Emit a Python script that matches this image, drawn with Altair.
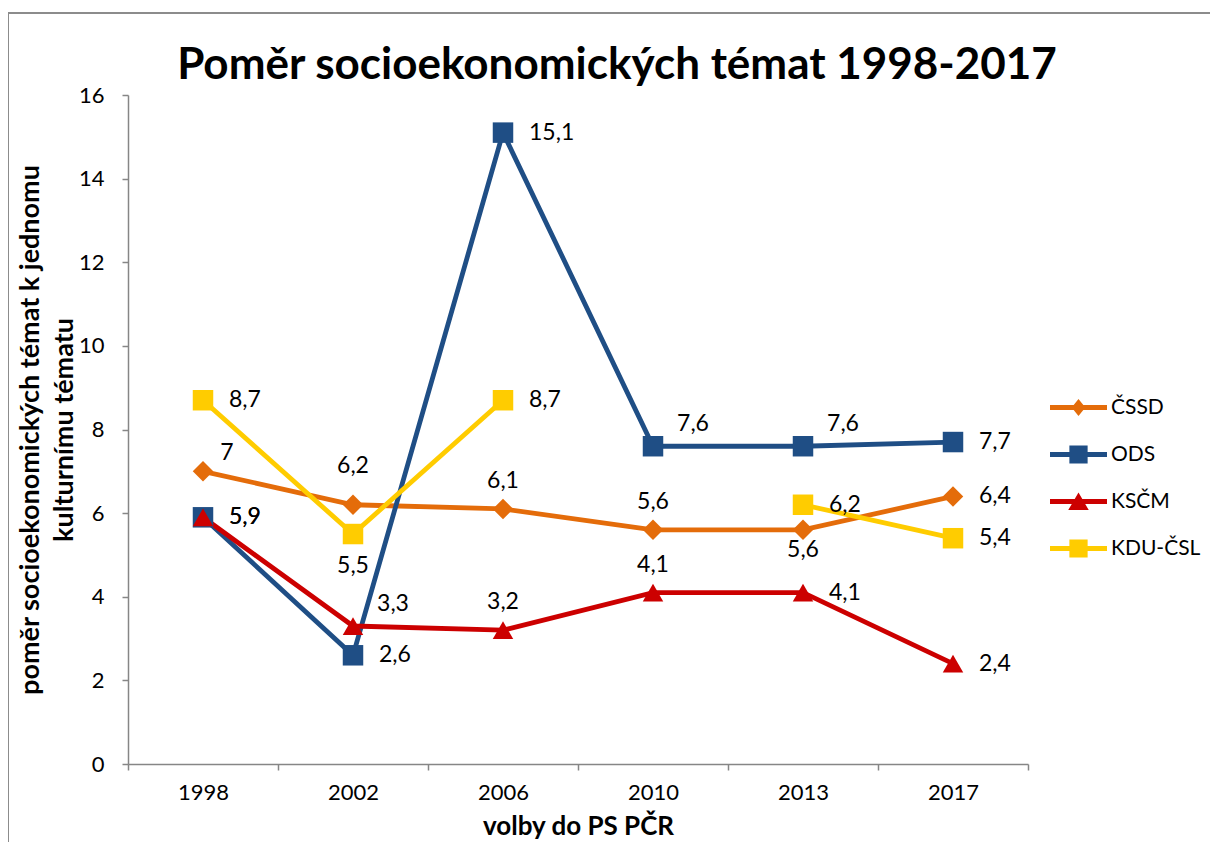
import altair as alt
import pandas as pd

years = ["1998", "2002", "2006", "2010", "2013", "2017"]
parties = ["ČSSD", "ODS", "KSČM", "KDU-ČSL"]
cssd = [7.0, 6.2, 6.1, 5.6, 5.6, 6.4]
ods = [5.9, 2.6, 15.1, 7.6, 7.6, 7.7]
kscm = [5.9, 3.3, 3.2, 4.1, 4.1, 2.4]
kdu = [8.7, 5.5, 8.7, None, 6.2, 5.4]

title_text = "Poměr socioekonomických témat 1998-2017"

# data-label placement codes
cssd_lab = ["ar", "AA", "A", "A", "B", "R"]
ods_lab = ["R", "R", "R", "AR", "AR", "R"]
kscm_lab = ["R", "AR", "A", "A", "R", "R"]
kdu_lab = ["R", "BB", "R", "", "R", "R"]

colors = ["#E46C0A", "#1F4E85", "#CC0000", "#FFCC00"]
shapes = ["diamond", "square", "triangle-up", "square"]
legend_paths = [
    "M-1,-0.085H1V0.085H-1Z M0,-0.3L0.24,0L0,0.3L-0.24,0Z",
    "M-1,-0.085H1V0.085H-1Z M-0.32,-0.32H0.32V0.32H-0.32Z",
    "M-1,-0.085H1V0.085H-1Z M0,-0.32L0.36,0.3H-0.36Z",
    "M-1,-0.085H1V0.085H-1Z M-0.32,-0.32H0.32V0.32H-0.32Z",
]

rows = []
for party, vals, labs, shp in zip(parties, [cssd, ods, kscm, kdu],
                                  [cssd_lab, ods_lab, kscm_lab, kdu_lab], shapes):
    seg = 0
    for yr, v, lp in zip(years, vals, labs):
        if v is None:
            seg += 1
            continue
        rows.append({
            "party": party, "year": yr, "value": v,
            "label": f"{v:g}".replace(".", ","),
            "pos": lp, "seg": f"{party}-{seg}", "shape": shp,
        })
df = pd.DataFrame(rows)

color_scale = alt.Scale(domain=parties, range=colors)
leg = alt.Legend(title=None, orient="none", legendX=922, legendY=284,
                 symbolSize=3249, symbolStrokeWidth=0, labelFontSize=21,
                 labelOffset=4, rowPadding=8, labelColor="black")
color_enc = alt.Color("party:N", scale=color_scale, legend=leg)

x_enc = alt.X(
    "year:N",
    sort=years,
    scale=alt.Scale(type="band", domain=years, paddingInner=0, paddingOuter=0),
    axis=alt.Axis(title="volby do PS PČR", labelAngle=0, tickBand="extent",
                  tickSize=6, labelPadding=12, titlePadding=10),
)
y_enc = alt.Y(
    "value:Q",
    scale=alt.Scale(domain=[0, 16], nice=False),
    axis=alt.Axis(values=[0, 2, 4, 6, 8, 10, 12, 14, 16], tickSize=6, labelPadding=18,
                  title=["poměr socioekonomických témat k jednomu", "kulturnímu tématu"],
                  titlePadding=0, titleLineHeight=34, titleFontSize=27),
)

base = alt.Chart(df)
one = pd.DataFrame({"t": [title_text]})

border = alt.Chart(one).mark_rect(
    fillOpacity=0, stroke="#8c8c8c", strokeWidth=2
).encode(x=alt.value(-120), x2=alt.value(1300), y=alt.value(-82), y2=alt.value(900))

title = alt.Chart(one).mark_text(
    fontSize=44, fontWeight="bold", color="black", align="center", baseline="middle"
).encode(x=alt.value(489), y=alt.value(-29), text="t:N")

lines = base.mark_line(strokeWidth=4.8).encode(
    x=x_enc, y=y_enc, color=color_enc, detail="seg:N",
)

points = base.mark_point(filled=True, opacity=1, size=420).encode(
    x=x_enc, y=y_enc, color=color_enc,
    shape=alt.Shape("shape:N", scale=None),
)

legend_layer = base.transform_filter("false").mark_point(filled=True).encode(
    x=x_enc, y=y_enc, color=color_enc,
    shape=alt.Shape("party:N", scale=alt.Scale(domain=parties, range=legend_paths),
                    legend=leg),
)

label_specs = {
    "R": dict(align="left", dx=26, dy=0),
    "A": dict(align="center", dx=0, dy=-28),
    "AA": dict(align="center", dx=0, dy=-39),
    "B": dict(align="center", dx=0, dy=20),
    "BB": dict(align="center", dx=0, dy=32),
    "AR": dict(align="center", dx=40, dy=-22),
    "ar": dict(align="center", dx=24, dy=-18),
}
texts = []
for code, spec in label_specs.items():
    texts.append(
        base.transform_filter(alt.datum.pos == code)
        .mark_text(baseline="middle", fontSize=23, color="black", **spec)
        .encode(x=x_enc, y=y_enc, text="label:N")
    )

chart = alt.layer(border, title, lines, points, legend_layer, *texts).properties(
    width=900, height=669,
    padding={"left": 120, "top": 87, "right": 182, "bottom": 78},
    autosize="none",
).configure(font="Lato").configure_axis(
    labelFontSize=22, labelColor="black", titleFontSize=26, titleFontWeight="bold",
    titleColor="black", domainColor="#868686", tickColor="#868686", grid=False,
    domainWidth=1.5, tickWidth=1.5,
).configure_view(stroke=None)

chart.save("out.html", embed_options={"renderer": "svg", "actions": False})
